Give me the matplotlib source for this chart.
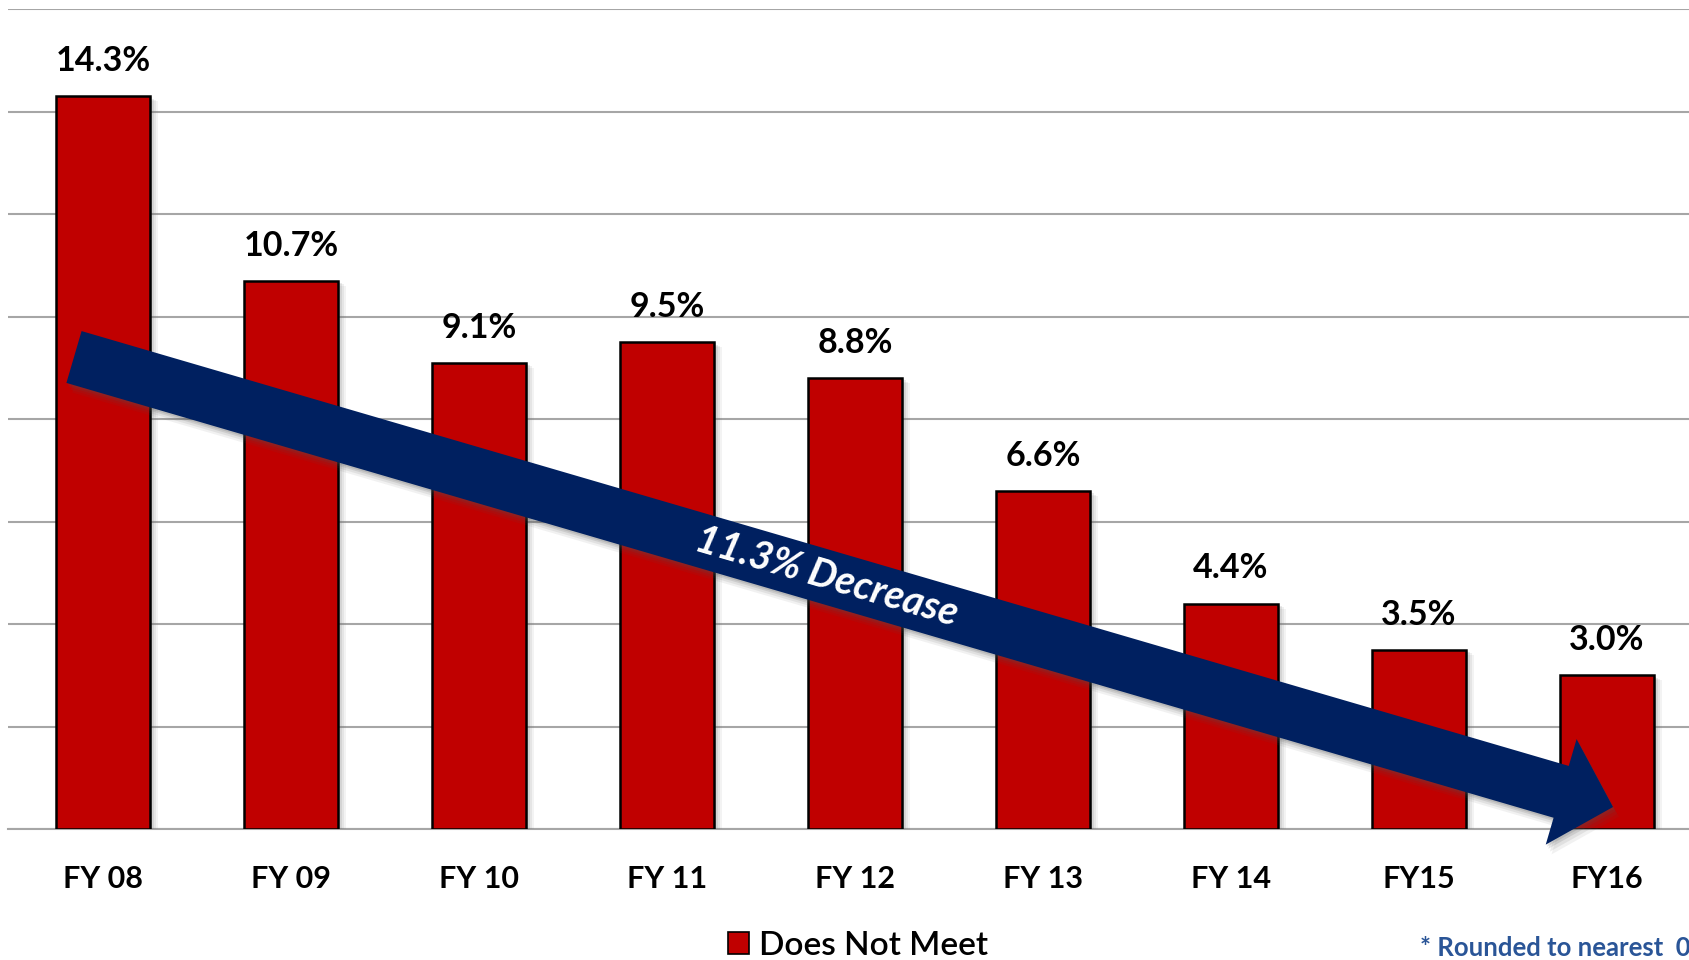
import numpy as np
import matplotlib
matplotlib.use("Agg")
import matplotlib.pyplot as plt
from matplotlib.patches import Polygon, Patch
import matplotlib.patheffects as pe

categories = ["FY 08", "FY 09", "FY 10", "FY 11", "FY 12", "FY 13", "FY 14", "FY15", "FY16"]
values = [14.3, 10.7, 9.1, 9.5, 8.8, 6.6, 4.4, 3.5, 3.0]
value_labels = ["14.3%", "10.7%", "9.1%", "9.5%", "8.8%", "6.6%", "4.4%", "3.5%", "3.0%"]
series_name = "Does Not Meet"
arrow_text = "11.3% Decrease"
footnote = "* Rounded to nearest  0.1%"

plt.rcParams['font.family'] = ['Lato', 'DejaVu Sans']

W, H = 1689, 960
fig = plt.figure(figsize=(W / 100, H / 100), dpi=100)
ax_left, ax_right, ax_top, ax_bottom = 8, 1689, 9, 829
ax = fig.add_axes([ax_left / W, 1 - ax_bottom / H, (ax_right - ax_left) / W, (ax_bottom - ax_top) / H])

soft_shadow = [pe.SimplePatchShadow(offset=(o, -o * 0.6), shadow_rgbFace="#707070", alpha=a)
               for o, a in ((6, 0.08), (4.5, 0.1), (3, 0.14), (1.5, 0.16))]

x = np.arange(len(categories))
bars = ax.bar(x, values, width=0.5, color="#C00000", edgecolor="black", linewidth=1.8, zorder=3)
for b in bars:
    b.set_path_effects(soft_shadow + [pe.Normal()])

ax.set_xlim(-0.505, 8.436)
ax.set_ylim(0, 16)
ax.set_yticks(np.arange(0, 17, 2))
ax.yaxis.grid(True, color="#A6A6A6", linewidth=1.5, zorder=0)
ax.set_axisbelow(True)
ax.tick_params(axis="y", left=False, labelleft=False)
ax.set_xticks(x)
ax.set_xticklabels(categories, fontsize=22, fontweight="bold")
ax.tick_params(axis="x", length=0, pad=26)
for s in ["left", "right", "top"]:
    ax.spines[s].set_visible(False)
ax.spines["bottom"].set_color("#A6A6A6")
ax.spines["bottom"].set_linewidth(1.5)

for xi, v, lab in zip(x, values, value_labels):
    ax.annotate(lab, (xi, v), xytext=(0, 19), textcoords="offset pixels",
                ha="center", va="bottom", fontsize=24.5, fontweight="bold", color="black", zorder=5)

# Trend arrow (pixel geometry, y downward)
T = np.array([74.0, 357.0])
P = np.array([1613.0, 807.0])
u = (P - T) / np.linalg.norm(P - T)
n = np.array([-u[1], u[0]])
hw, HW, HL = 27, 55, 54
B = P - HL * u
pts = [T - hw * n, B - hw * n, B - HW * n, P, B + HW * n, B + hw * n, T + hw * n]
pts_fig = [(p[0] / W, 1 - p[1] / H) for p in pts]
arrow = Polygon(pts_fig, closed=True, transform=fig.transFigure, facecolor="#002060",
                edgecolor="none", zorder=6)
arrow_shadow = [pe.SimplePatchShadow(offset=(o * 0.6, -o), shadow_rgbFace="#505050", alpha=a)
                for o, a in ((7, 0.08), (5, 0.1), (3, 0.14), (1.5, 0.16))]
arrow.set_path_effects(arrow_shadow + [pe.Normal()])
fig.add_artist(arrow)

angle = -np.degrees(np.arctan2(P[1] - T[1], P[0] - T[0]))
c = np.array([827.0, 0.0])
c[1] = T[1] + (c[0] - T[0]) * u[1] / u[0]
fig.text(c[0] / W, 1 - c[1] / H, arrow_text, rotation=angle, rotation_mode="anchor",
         ha="center", va="center", fontsize=28.5, fontweight="bold", fontstyle="italic",
         color="white", zorder=7)

fig.legend(handles=[Patch(facecolor="#C00000", edgecolor="black", linewidth=1.2, label=series_name)],
           loc="center", bbox_to_anchor=(858 / W, 1 - 946 / H), frameon=False,
           prop={"size": 24, "weight": "semibold"}, handlelength=0.65, handleheight=0.65,
           handletextpad=0.3)

fig.text(1420 / W, 1 - 948 / H, footnote, ha="left", va="center", fontsize=18.5,
         fontweight="bold", color="#2A5597")

fig.savefig("out.png", dpi=100)
